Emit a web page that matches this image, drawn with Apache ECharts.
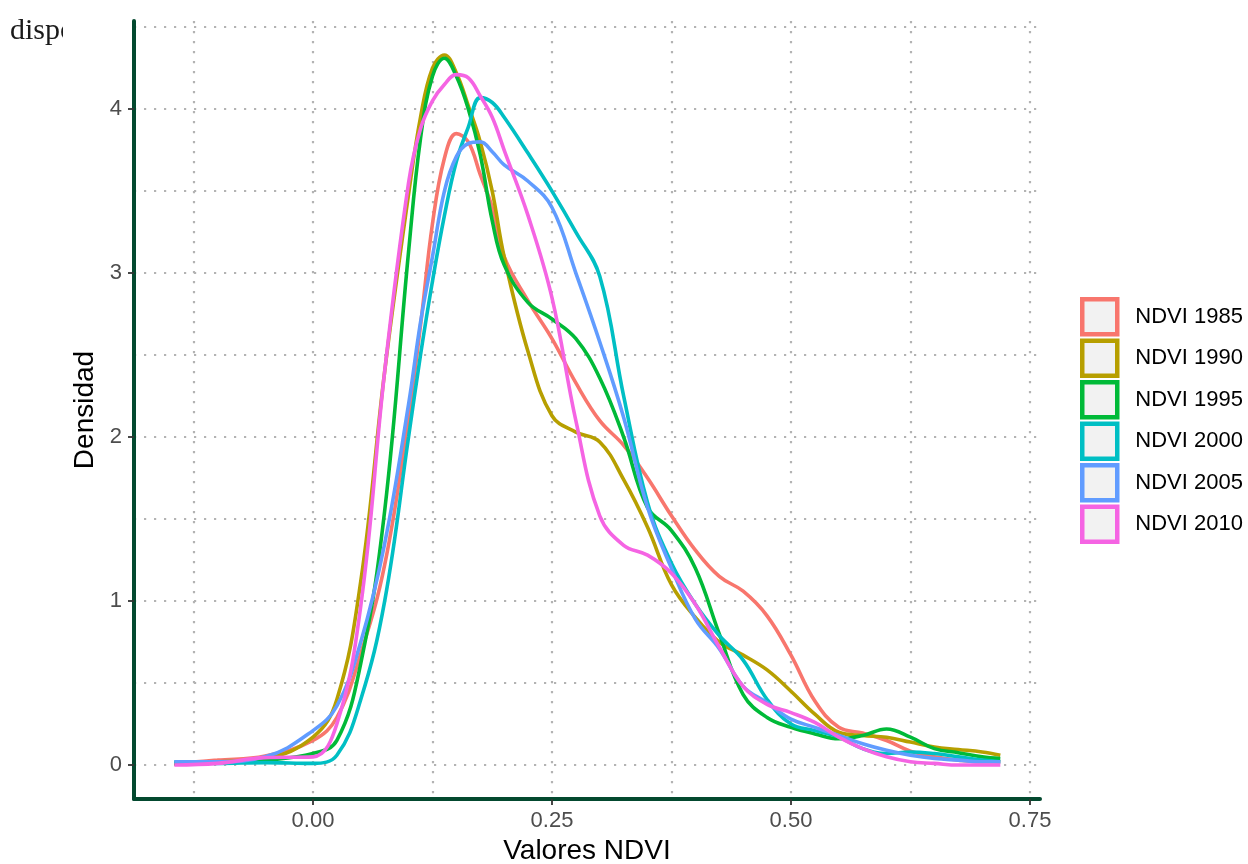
<!DOCTYPE html>
<html>
<head>
<meta charset="utf-8">
<script src="https://cdn.jsdelivr.net/npm/echarts@6/dist/echarts.min.js"></script>
<style>
html,body{margin:0;padding:0;background:#fff;overflow:hidden;}
#chart{width:1248px;height:864px;}
</style>
</head>
<body>
<div id="chart"></div>
<script>
// NDVI values (x) at which densities were read
var xs = [-0.145, -0.10, -0.05, 0.00, 0.025, 0.05, 0.075, 0.10, 0.1125, 0.125, 0.1375, 0.15, 0.1625, 0.175, 0.1875, 0.20, 0.225, 0.25, 0.275, 0.30, 0.325, 0.35, 0.375, 0.40, 0.425, 0.45, 0.475, 0.50, 0.525, 0.55, 0.575, 0.60, 0.625, 0.65, 0.675, 0.70, 0.719];

var ndvi1985 = [0.01, 0.03, 0.055, 0.15, 0.29, 0.68, 1.22, 2.12, 2.68, 3.3, 3.7, 3.85, 3.8, 3.6, 3.4, 3.1, 2.83, 2.6, 2.33, 2.1, 1.95, 1.75, 1.52, 1.31, 1.15, 1.06, 0.91, 0.67, 0.39, 0.23, 0.195, 0.15, 0.085, 0.05, 0.03, 0.02, 0.02];
var ndvi1990 = [0.01, 0.02, 0.04, 0.17, 0.4, 1.12, 2.4, 3.48, 3.95, 4.25, 4.33, 4.22, 4.02, 3.8, 3.5, 3.1, 2.52, 2.13, 2.03, 1.97, 1.74, 1.45, 1.1, 0.9, 0.75, 0.67, 0.58, 0.45, 0.31, 0.2, 0.18, 0.17, 0.14, 0.11, 0.095, 0.08, 0.06];
var ndvi1995 = [0.01, 0.015, 0.03, 0.07, 0.15, 0.62, 1.55, 3.13, 3.82, 4.2, 4.31, 4.2, 4.0, 3.72, 3.32, 3.05, 2.82, 2.72, 2.6, 2.36, 2.0, 1.57, 1.43, 1.2, 0.8, 0.43, 0.29, 0.23, 0.19, 0.16, 0.18, 0.22, 0.17, 0.1, 0.075, 0.05, 0.04];
var ndvi2000 = [0.02, 0.01, 0.015, 0.01, 0.06, 0.4, 1.0, 2.0, 2.5, 2.95, 3.35, 3.68, 3.89, 4.07, 4.04, 3.95, 3.73, 3.5, 3.25, 2.98, 2.25, 1.6, 1.23, 0.98, 0.79, 0.64, 0.4, 0.25, 0.21, 0.17, 0.1, 0.07, 0.08, 0.07, 0.05, 0.03, 0.02];
var ndvi2005 = [0.02, 0.02, 0.05, 0.21, 0.36, 0.75, 1.35, 2.2, 2.7, 3.1, 3.5, 3.71, 3.79, 3.8, 3.74, 3.66, 3.56, 3.4, 3.0, 2.58, 2.12, 1.57, 1.2, 0.89, 0.71, 0.48, 0.38, 0.28, 0.23, 0.18, 0.13, 0.09, 0.06, 0.04, 0.03, 0.02, 0.02];
var ndvi2010 = [0.0, 0.01, 0.045, 0.05, 0.25, 0.97, 2.4, 3.55, 3.88, 4.05, 4.15, 4.21, 4.19, 4.08, 3.95, 3.75, 3.35, 2.85, 2.1, 1.52, 1.34, 1.28, 1.17, 0.98, 0.72, 0.48, 0.37, 0.32, 0.26, 0.17, 0.1, 0.05, 0.02, 0.01, 0.0, 0.0, 0.0];

var seriesNames = ['NDVI 1985', 'NDVI 1990', 'NDVI 1995', 'NDVI 2000', 'NDVI 2005', 'NDVI 2010'];
var seriesValues = [ndvi1985, ndvi1990, ndvi1995, ndvi2000, ndvi2005, ndvi2010];
var colors = ['#F8766D', '#B79F00', '#00BA38', '#00BFC4', '#619CFF', '#F564E3'];

var xMajorTicks = [0, 0.25, 0.5, 0.75];
var xMinorTicks = [-0.125, 0.125, 0.375, 0.625];
var yMajorTicks = [0, 1, 2, 3, 4];
var yMinorTicks = [0.5, 1.5, 2.5, 3.5, 4.5];

var xMin = -0.1872, xMax = 0.7605;
var yMin = -0.207, yMax = 4.537;

var gridLine = { show: true, lineStyle: { color: '#b3b3b3', width: 2.2, type: [2.2, 7.8] } };
var axisGreen = '#03492f';
var sans = 'Liberation Sans, Arial, sans-serif';

var chart = echarts.init(document.getElementById('chart'));
var option = {
  animation: false,
  backgroundColor: '#ffffff',
  grid: { left: 134, right: 208, top: 21, bottom: 65, containLabel: false, outerBoundsMode: 'none' },
  legend: {
    orient: 'vertical',
    left: 1080,
    top: 297,
    padding: 0,
    itemWidth: 35,
    itemHeight: 35,
    itemGap: 2,
    icon: 'rect',
    textStyle: { fontFamily: sans, fontSize: 22, color: '#000', padding: [2, 0, 0, 13] },
    data: seriesNames.map(function (n, i) {
      return { name: n, itemStyle: { color: '#f2f2f2', borderColor: colors[i], borderWidth: 4.5 } };
    })
  },
  graphic: [
    { type: 'text', left: 10, top: 16, z: 10,
      style: { text: 'dispo', fontFamily: 'Liberation Serif, Times New Roman, serif', fontSize: 30, fill: '#1a1a1a' } },
    { type: 'rect', left: 63, top: 5, z: 11, shape: { width: 55, height: 50 }, style: { fill: '#ffffff' } }
  ],
  xAxis: [
    {
      type: 'value', min: xMin, max: xMax, position: 'bottom',
      name: 'Valores NDVI', nameLocation: 'middle', nameGap: 32,
      nameTextStyle: { fontFamily: sans, fontSize: 28, color: '#000' },
      axisLine: { show: true, onZero: false, lineStyle: { color: axisGreen, width: 4 } },
      axisTick: { show: true, length: 6, customValues: xMajorTicks, lineStyle: { color: '#333333', width: 1.8 } },
      axisLabel: { show: true, customValues: xMajorTicks, margin: 11, fontFamily: sans, fontSize: 22, color: '#4d4d4d',
        formatter: function (v) { return v.toFixed(2); } },
      splitLine: gridLine
    },
    {
      type: 'value', min: xMin, max: xMax, position: 'top',
      axisLine: { show: false }, axisLabel: { show: false },
      axisTick: { show: false, customValues: xMinorTicks },
      splitLine: gridLine
    }
  ],
  yAxis: [
    {
      type: 'value', min: yMin, max: yMax, position: 'left',
      name: 'Densidad', nameLocation: 'middle', nameGap: 27,
      nameTextStyle: { fontFamily: sans, fontSize: 28, color: '#000' },
      axisLine: { show: true, onZero: false, lineStyle: { color: axisGreen, width: 4 } },
      axisTick: { show: true, length: 6, customValues: yMajorTicks, lineStyle: { color: '#333333', width: 1.8 } },
      axisLabel: { show: true, customValues: yMajorTicks, margin: 12, fontFamily: sans, fontSize: 22, color: '#4d4d4d',
        formatter: function (v) { return String(v); } },
      splitLine: gridLine
    },
    {
      type: 'value', min: yMin, max: yMax, position: 'right',
      axisLine: { show: false }, axisLabel: { show: false },
      axisTick: { show: false, customValues: yMinorTicks },
      splitLine: gridLine
    }
  ],
  series: seriesNames.map(function (n, i) {
    return {
      name: n, type: 'line', xAxisIndex: 0, yAxisIndex: 0,
      smooth: 0.4, showSymbol: false, symbol: 'none',
      lineStyle: { color: colors[i], width: 3.6 },
      itemStyle: { color: colors[i] },
      data: xs.map(function (x, j) { return [x, seriesValues[i][j]]; }),
      z: 3 + i
    };
  })
};
chart.setOption(option);
</script>
</body>
</html>
